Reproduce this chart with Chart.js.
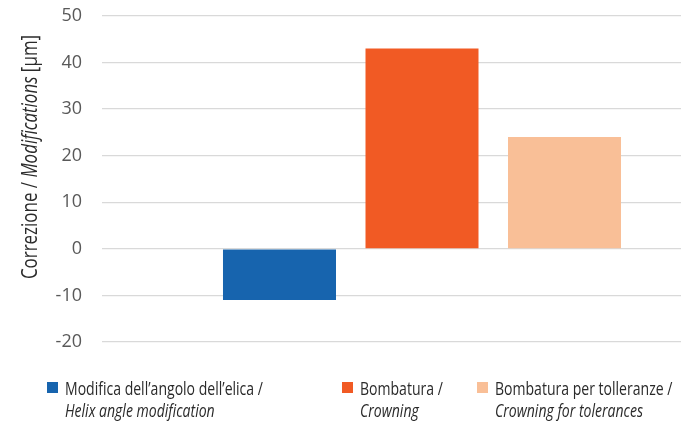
<!DOCTYPE html>
<html>
<head>
<meta charset="utf-8">
<script src="https://cdn.jsdelivr.net/npm/chart.js@4.4.1/dist/chart.umd.min.js"></script>
<style>
  html, body { margin: 0; padding: 0; background: #fff; overflow: hidden; width: 681px; height: 424px; }
  #wrap { position: relative; width: 760px; height: 424px; }
</style>
</head>
<body>
<div id="wrap"><canvas id="corrChart" width="760" height="424"></canvas></div>
<script>
// series names: Italian line / English line
const seriesIt = ['Modifica dell\u2019angolo dell\u2019elica /', 'Bombatura /', 'Bombatura per tolleranze /'];
const seriesEn = ['Helix angle modification', 'Crowning', 'Crowning for tolerances'];
const corrections = [-11, 43, 24];
const barColors = ['#1764ae', '#f15a24', '#f9bf97'];
const yTicks = [-20, -10, 0, 10, 20, 30, 40, 50];

const LABEL_FONT = '"Open Sans", "Noto Sans", sans-serif';
const TEXT_COLOR = '#2a2a2a';

// no condensed face installed, so squeeze the text horizontally
function narrowText(ctx, text, x, y, sx) {
    ctx.save();
    ctx.translate(x, y);
    ctx.scale(sx, 1);
    ctx.fillText(text, 0, 0);
    ctx.restore();
}

// rotated y title, middle word in italics
const axisTitle = {
    id: 'axisTitle',
    afterDraw(chart, args, opts) {
        const ctx = chart.ctx;
        const parts = [
            { t: 'Correzione / ', italic: false },
            { t: 'Modifications', italic: true },
            { t: ' [\u03bcm]', italic: false }
        ];
        const fontOf = p => `${p.italic ? 'italic ' : ''}${opts.size}px ${LABEL_FONT}`;
        ctx.save();
        let total = 0;
        parts.forEach(p => { ctx.font = fontOf(p); p.w = ctx.measureText(p.t).width * opts.squeeze; total += p.w; });
        ctx.translate(opts.x, opts.y);
        ctx.rotate(-Math.PI / 2);
        ctx.fillStyle = TEXT_COLOR;
        ctx.textBaseline = 'middle';
        let x = -total / 2;
        parts.forEach(p => { ctx.font = fontOf(p); narrowText(ctx, p.t, x, 0, opts.squeeze); x += p.w; });
        ctx.restore();
    }
};

// two-line legend under the plot
const bottomLegend = {
    id: 'bottomLegend',
    afterDraw(chart, args, opts) {
        const ctx = chart.ctx;
        ctx.save();
        chart.data.datasets.forEach((ds, i) => {
            const x = opts.xs[i];
            const tx = x + opts.box + 7;
            ctx.fillStyle = ds.backgroundColor;
            ctx.fillRect(x, opts.y, opts.box, opts.box);
            ctx.fillStyle = TEXT_COLOR;
            ctx.textBaseline = 'alphabetic';
            ctx.font = `${opts.size}px ${LABEL_FONT}`;
            narrowText(ctx, ds.label[0], tx, opts.y + 13, opts.squeeze);
            ctx.font = `italic ${opts.size}px ${LABEL_FONT}`;
            narrowText(ctx, ds.label[1], tx, opts.y + 13 + opts.lineGap, opts.squeeze);
        });
        ctx.restore();
    }
};

const ctx = document.getElementById('corrChart');

new Chart(ctx, {
    type: 'bar',
    data: {
        labels: [''],
        datasets: corrections.map((v, i) => ({
            label: [seriesIt[i], seriesEn[i]],
            data: [v],
            backgroundColor: barColors[i],
            borderWidth: 0
        }))
    },
    options: {
        responsive: false,
        animation: false,
        layout: { padding: { top: 16, right: 18, bottom: 82, left: 0 } },
        datasets: { bar: { categoryPercentage: 0.668, barPercentage: 0.793 } },
        scales: {
            x: { display: false },
            y: {
                min: yTicks[0],
                max: yTicks[yTicks.length - 1],
                ticks: {
                    stepSize: yTicks[1] - yTicks[0],
                    color: '#595959',
                    padding: 20,
                    font: { family: LABEL_FONT, size: 18 }
                },
                grid: { color: '#d9d9d9', lineWidth: 1.3, drawTicks: false },
                border: { display: false },
                afterFit(scale) {
                    scale.width = 102;
                    scale.paddingTop = 0;
                    scale.paddingBottom = 0;
                }
            }
        },
        plugins: {
            legend: { display: false },
            tooltip: { enabled: false },
            axisTitle: { x: 31, y: 157, size: 22, squeeze: 0.77 },
            bottomLegend: { xs: [47, 342, 477], y: 382, box: 11, size: 18, squeeze: 0.78, lineGap: 22 }
        }
    },
    plugins: [axisTitle, bottomLegend]
});
</script>
</body>
</html>
